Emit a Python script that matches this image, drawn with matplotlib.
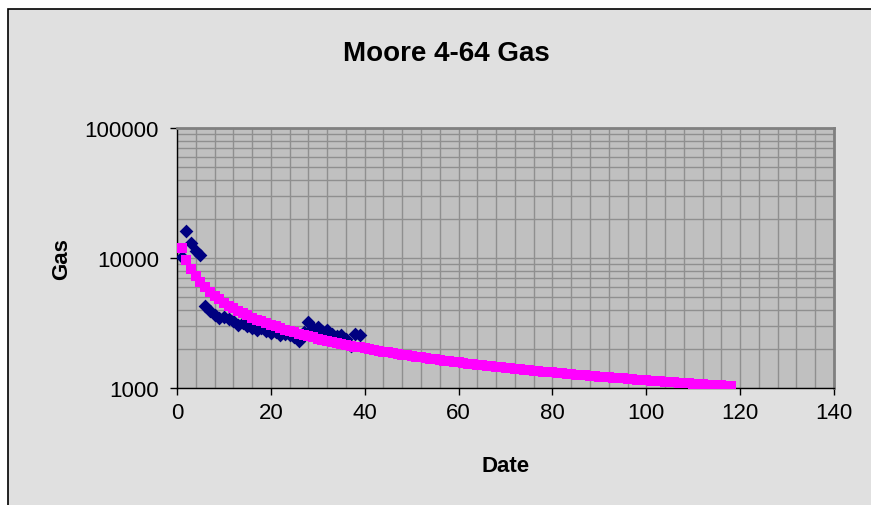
import numpy as np
import matplotlib
matplotlib.use('Agg')
import matplotlib.pyplot as plt
from matplotlib.patches import Rectangle
from matplotlib.ticker import MultipleLocator, FixedLocator, NullFormatter

plt.rcParams['font.family'] = ['Liberation Sans', 'DejaVu Sans']

# ── Data ──────────────────────────────────────────────────────────────────────

ACTUAL_X = list(range(1, 40))
ACTUAL_GAS = [
    10100, 16100, 13000, 11300, 10600, 4250, 3900, 3650, 3450, 3500,
    3400, 3250, 3050, 3150, 3000, 2900, 2800, 2900, 2750, 2650,
    2700, 2550, 2600, 2550, 2450, 2300, 2700, 3200, 2900, 2950,
    2750, 2800, 2600, 2500, 2550, 2400, 2100, 2600, 2550,
]

FORECAST_X = list(range(1, 119))
FORECAST_GAS = [
    11920, 9635, 8220, 7242, 6516, 5952, 5500, 5127, 4812, 4543,
    4311, 4106, 3924, 3762, 3617, 3484, 3364, 3254, 3153, 3060,
    2973, 2892, 2817, 2747, 2681, 2619, 2560, 2505, 2453, 2403,
    2357, 2312, 2269, 2229, 2190, 2153, 2117, 2083, 2051, 2019,
    1989, 1960, 1932, 1905, 1879, 1854, 1830, 1806, 1784, 1762,
    1740, 1720, 1700, 1680, 1661, 1643, 1625, 1608, 1591, 1575,
    1559, 1543, 1528, 1513, 1499, 1485, 1471, 1458, 1445, 1432,
    1419, 1407, 1395, 1384, 1372, 1361, 1350, 1339, 1328, 1318,
    1308, 1298, 1288, 1279, 1269, 1260, 1251, 1242, 1234, 1225,
    1217, 1208, 1200, 1192, 1185, 1177, 1169, 1162, 1155, 1147,
    1140, 1133, 1126, 1120, 1113, 1106, 1100, 1093, 1087, 1081,
    1075, 1069, 1063, 1057, 1052, 1046, 1040, 1035,
]

Y_TICKS = [1000, 10000, 100000]
Y_TICK_LABELS = ['1000', '10000', '100000']

COLOUR_ACTUAL = '#000080'
COLOUR_FORECAST = '#FF00FF'
COLOUR_PLOT_BG = '#C0C0C0'
COLOUR_CHART_BG = '#E0E0E0'
COLOUR_GRID = '#8F8F8F'

# ── Figure ────────────────────────────────────────────────────────────────────

fig = plt.figure(figsize=(8.71, 5.06), dpi=100, facecolor='white')

# chart area frame (Excel style), runs off the right/bottom edge
fig.patches.append(Rectangle((8 / 871, -0.1), 1.2, 1 - 10 / 506 + 0.1,
                             transform=fig.transFigure, facecolor=COLOUR_CHART_BG,
                             edgecolor='black', linewidth=1.2, zorder=-5))

ax = fig.add_axes([177 / 871, 1 - 389 / 506, (834 - 177) / 871, (389 - 129) / 506])
ax.set_facecolor(COLOUR_PLOT_BG)

ax.scatter(ACTUAL_X, ACTUAL_GAS, marker='D', s=7.0 ** 2, color=COLOUR_ACTUAL,
           linewidths=0, zorder=3)
ax.scatter(FORECAST_X, FORECAST_GAS, marker='s', s=7.2 ** 2, color=COLOUR_FORECAST,
           linewidths=0, zorder=4)

ax.set_yscale('log')
ax.set_ylim(1000, 100000)
ax.set_xlim(0, 140)

ax.xaxis.set_major_locator(MultipleLocator(20))
ax.xaxis.set_minor_locator(MultipleLocator(4))
ax.yaxis.set_major_locator(FixedLocator(Y_TICKS))
ax.set_yticklabels(Y_TICK_LABELS)
ax.yaxis.set_minor_locator(FixedLocator(
    [m * d for d in (1000, 10000) for m in range(2, 10)]))
ax.yaxis.set_minor_formatter(NullFormatter())

ax.grid(True, which='both', color=COLOUR_GRID, linewidth=1.0)
ax.set_axisbelow(True)

ax.tick_params(which='major', direction='out', length=5, width=1, labelsize=16,
               color='black')
ax.tick_params(axis='y', which='major', pad=8)
ax.tick_params(axis='x', which='major', pad=5)
ax.tick_params(which='minor', length=0)

for side in ('top', 'right'):
    ax.spines[side].set_color('#808080')
    ax.spines[side].set_linewidth(2)
for side in ('left', 'bottom'):
    ax.spines[side].set_color('black')
    ax.spines[side].set_linewidth(1)

ax.set_xlabel('Date', fontsize=16, fontweight='bold', labelpad=23)
ax.set_ylabel('Gas', fontsize=16, fontweight='bold', labelpad=9)

fig.text(446 / 871, 1 - 54 / 506, 'Moore 4-64 Gas', fontsize=20,
         fontweight='bold', ha='center', va='center')

fig.savefig('out.png', dpi=100, facecolor='white')
